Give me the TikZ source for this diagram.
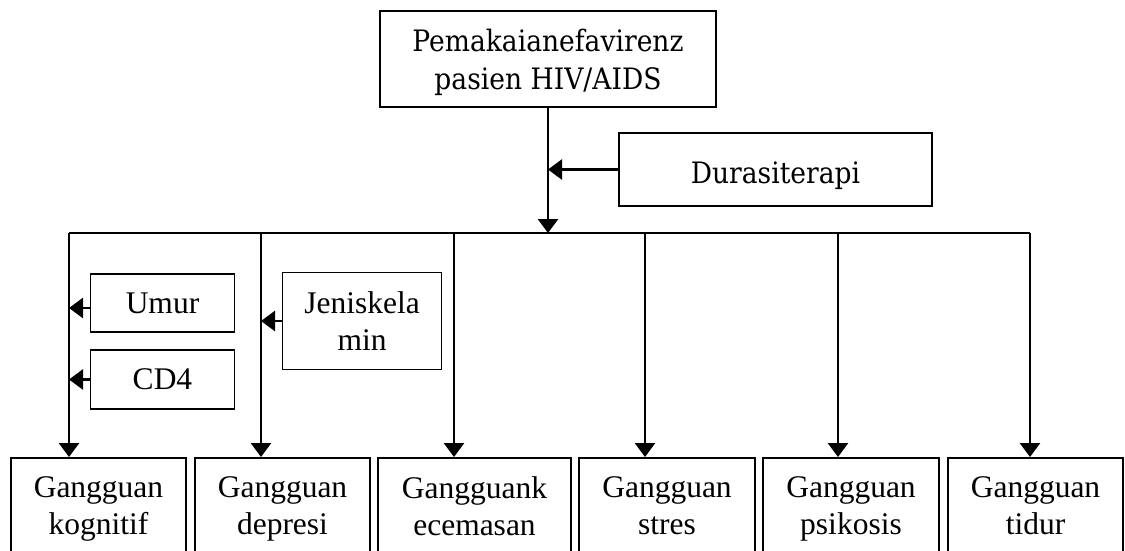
\documentclass[tikz,border=0pt]{standalone}
\usepackage{fontspec}
\setmainfont{Liberation Serif}
\newfontfamily\capfont[FakeStretch=0.9]{DejaVu Serif}
\usetikzlibrary{arrows.meta}
\begin{document}
\begin{tikzpicture}[x=1pt,y=-1pt,
  box/.style={draw, line width=1.8pt, inner sep=0pt, align=center},
  tnr/.style={font=\fontsize{31.5}{37.5}\selectfont},
  cmb/.style={font=\capfont\fontsize{29.5}{38}\selectfont},
  conn/.style={line width=2.6pt, -{Triangle[width=20pt,length=14pt]}},
  busline/.style={line width=2.6pt},
  gbox/.style={box, tnr, anchor=north, minimum width=175pt, inner ysep=18.5pt}]
\useasboundingbox (0,0) rectangle (1125,550);
\clip (0,0) rectangle (1125,550);

% top and duration
\node[box,cmb,minimum width=336pt,minimum height=96pt,text depth=0pt] (top) at (548,59) {Pemakaianefavirenz\\pasien HIV/AIDS};
\node[box,cmb,minimum width=313pt,minimum height=73pt,text height=27pt,text depth=0pt] (dur) at (775.5,169.5) {Durasiterapi};

% bus coordinates
\coordinate (b1) at (69,233);
\coordinate (b2) at (261,233);
\coordinate (b3) at (454,233);
\coordinate (b4) at (645,233);
\coordinate (b5) at (838,233);
\coordinate (b6) at (1030,233);

% bottom boxes
\node[gbox] (g1) at (98.5,457) {Gangguan\\kognitif};
\node[gbox] (g2) at (282.5,457) {Gangguan\\depresi};
\node[gbox,minimum width=193pt] (g3) at (474.5,457) {Gangguank\\ecemasan};
\node[gbox,minimum width=176pt] (g4) at (667,457) {Gangguan\\stres};
\node[gbox,minimum width=176pt] (g5) at (851,457) {Gangguan\\psikosis};
\node[gbox] (g6) at (1035.5,457) {Gangguan\\tidur};

% moderators
\node[box,tnr,minimum width=144pt,minimum height=58pt] (umur) at (162.5,303) {Umur};
\node[box,tnr,minimum width=144pt,minimum height=59pt] (cd4) at (162.5,379.5) {CD4};
\node[box,tnr,minimum width=159pt,minimum height=97pt] (jk) at (362,321) {Jeniskela\\min};

% connectors
\draw[busline] (b1) -- (b6);
\draw[conn] (top.south) -- (top.south |- b1);
\draw[conn] (dur.west) -- (dur.west -| top.south);
\draw[conn] (b1) -- (b1 |- g1.north);
\draw[conn] (b2) -- (b2 |- g2.north);
\draw[conn] (b3) -- (b3 |- g3.north);
\draw[conn] (b4) -- (b4 |- g4.north);
\draw[conn] (b5) -- (b5 |- g5.north);
\draw[conn] (b6) -- (b6 |- g6.north);
\draw[conn] ([yshift=-5pt]umur.west) -- ([yshift=-5pt]umur.west -| b1);
\draw[conn] (cd4.west) -- (cd4.west -| b1);
\draw[conn] (jk.west) -- (jk.west -| b2);
\end{tikzpicture}
\end{document}
